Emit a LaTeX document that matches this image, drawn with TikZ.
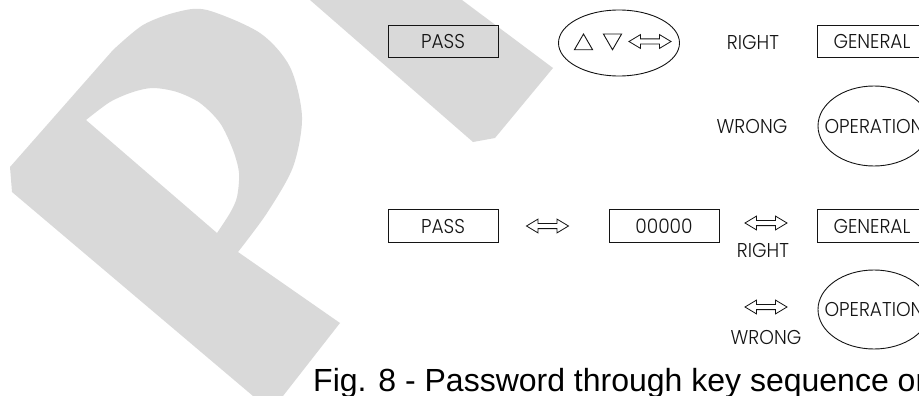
\documentclass[tikz,border=0pt]{standalone}
\usepackage{fontspec}
\setmainfont{Liberation Sans}
\newfontfamily\diagfont{Poppins Light}[FakeStretch=0.93]
\usetikzlibrary{shapes.geometric,shapes.arrows}
\definecolor{wmgray}{RGB}{217,217,217}
\definecolor{ink}{RGB}{20,20,20}
\begin{document}
\begin{tikzpicture}[x=1pt,y=-1pt,
  diagtext/.style={font=\diagfont\fontsize{20}{20}\selectfont, text=ink},
  keybox/.style={draw=ink, line width=1pt, minimum width=110pt, minimum height=32.5pt, inner sep=0pt, diagtext},
  word/.style={inner sep=0pt, diagtext},
  oval/.style={draw=ink, ellipse, line width=0.9pt, inner sep=0pt},
  tri/.style={draw=ink, regular polygon, regular polygon sides=3, minimum size=21pt, inner sep=0pt, line width=0.9pt},
  dblarr/.style={draw=ink, double arrow, line width=0.8pt, minimum height=42pt, inner xsep=0pt, inner ysep=2.2pt, double arrow head extend=4.3pt, double arrow tip angle=62}
]
\useasboundingbox (0,0) rectangle (919,396);
\clip (0,0) rectangle (919,396);

% light grey "P" mark in the background
\fill[wmgray, even odd rule]
  (10,167) -- (12,192) -- (253,396) -- (283,396) -- (340,323) -- (238,252)
  -- plot[smooth] coordinates {(238,252) (267,213) (293,167) (302,117) (290,67) (260,33) (207,10) (177,12) (143,25) (113,50)}
  -- cycle
  (217,233) -- (86,120)
  -- plot[smooth] coordinates {(86,120) (110,102) (133,92) (153,88) (177,92) (200,103) (220,123) (233,150) (239,173) (237,197) (230,213) (217,233)}
  -- cycle;
\fill[wmgray] (310,0) -- (462,0) -- (553,68) -- (495,138) -- (473,142) -- cycle;

% first sequence: arrow keys
\node[keybox] (pass1) at (443,41.5) {PASS};
\node[oval, minimum width=121pt, minimum height=66pt] (keys) at (619,43) {};
\node[tri] (up) at (583.5,44.5) {};
\node[tri, shape border rotate=180] (down) at (612.5,39.25) {};
\node[dblarr] (swap1) at (650,41.5) {};
\node[word] (right1) at (753,43) {RIGHT};
\node[keybox] (gen1) at (872,41.5) {GENERAL};
\node[word] (wrong1) at (752,126) {WRONG};
\node[oval, minimum width=112pt, minimum height=80pt] (op1) at (874,126) {};
\node[word] (optext1) at (op1.center) {OPERATION};

% second sequence: numeric code
\node[keybox] (pass2) at (443,226) {PASS};
\node[dblarr] (swap2) at (547.5,226) {};
\node[keybox] (code) at (664,226) {00000};
\node[dblarr] (swap3) at (766,223) {};
\node[word] (right2) at (763,250) {RIGHT};
\node[keybox] (gen2) at (872,226) {GENERAL};
\node[dblarr] (swap4) at (766,307) {};
\node[word] (wrong2) at (766,337) {WRONG};
\node[oval, minimum width=112pt, minimum height=79pt] (op2) at (874,309.5) {};
\node[word] (optext2) at (op2.center) {OPERATION};

% caption
\node[anchor=base west, inner sep=0pt, font=\fontsize{32}{38}\selectfont, text=black] (caption) at (313,391) {Fig. 8 - Password through key sequence or};
\end{tikzpicture}
\end{document}
